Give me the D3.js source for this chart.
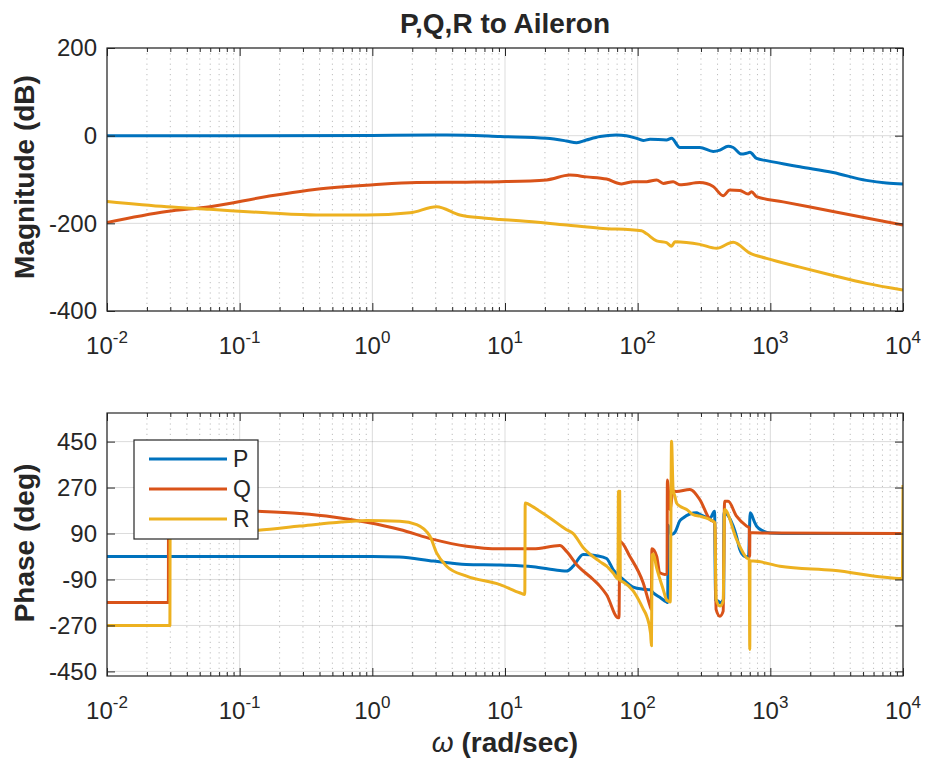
<!DOCTYPE html>
<html>
<head>
<meta charset="utf-8">
<script src="https://cdn.jsdelivr.net/npm/d3@7"></script>
<style>
  body { margin: 0; background: #fff; }
  text { font-family: "Liberation Sans", Arial, sans-serif; fill: #262626; }
</style>
</head>
<body>
<div id="chart"></div>
<script>
// tick labels
var xTicks = [1e-2, 1e-1, 1e0, 1e1, 1e2, 1e3, 1e4];
var xTickExps = ["-2", "-1", "0", "1", "2", "3", "4"];
var magTicks = [200, 0, -200, -400];
var phaseTicks = [450, 270, 90, -90, -270, -450];
var seriesNames = ["P", "Q", "R"];

// magnitude (dB) vs omega (rad/sec)
var wMagP = [0.01, 0.1, 1, 2.9, 5, 9.2, 20.6, 29, 34.7, 41, 52, 69, 82, 98, 110, 124, 165, 180, 208, 294, 371, 417, 481, 525, 607, 662, 702, 788, 936, 1667, 2972, 5300, 7500, 10000];
var magP = [0, 0, 0.5, 1.5, 1, -2, -6, -12, -16, -10, -2, 1.5, 0, -6, -11, -8, -10, -6, -27, -27, -36, -33, -24, -27, -42, -40, -38, -52, -57, -71, -84, -102, -108, -110];
var wMagQ = [0.01, 0.0282, 0.0597, 0.16, 0.38, 1.02, 2.16, 5.14, 9.16, 20.6, 30.8, 41.2, 58.3, 75.6, 92.5, 117, 139, 156, 185, 208, 294, 371, 441, 495, 589, 681, 721, 787, 1250, 2972, 5305, 10000];
var magQ = [-198, -173, -162, -139, -122, -112, -107, -106, -105, -101, -90, -94, -99, -110, -105, -105, -101, -109, -105, -112, -107, -116, -137, -124, -125, -133, -128, -139, -151, -173, -188, -204];
var wMagR = [0.01, 0.0282, 0.0597, 0.16, 0.38, 0.906, 1.92, 3.05, 4.57, 6.86, 9.16, 12.9, 29.1, 51.9, 107, 117, 139, 165, 180, 191, 294, 393, 525, 701, 936, 1668, 2972, 5305, 10000];
var magR = [-150, -162, -168, -176, -181, -181, -176, -162, -181, -188, -191, -194, -204, -211, -217, -224, -240, -244, -252, -242, -248, -257, -243, -268, -280, -300, -319, -337, -352];

// phase (deg) vs omega (rad/sec)
var wPhaseP = [0.01, 1.0, 1.6, 2.9, 5.1, 9.2, 16.3, 25.9, 29.1, 32.7, 38.8, 49, 58.3, 65.3, 77.8, 92.5, 110, 124, 131, 147, 165, 168.5, 169.5, 175, 180, 191, 208, 220, 278, 294, 350, 380, 386, 405, 417, 441, 445, 447, 525, 556, 589, 642, 685, 705, 760, 787, 883, 1000, 1500, 10000];
var phaseP = [0, 0, -2, -18, -31, -33, -40, -55, -57, -38, 8, 3, -8, -51, -90, -120, -128, -130, -142, -160, -178, -180, 122, 100, 86, 95, 140, 151, 171, 165, 150, 177, -170, -175, -181, -170, -166, 171, 119, 79, 27, 0, -2, 171, 135, 119, 100, 92, 90, 90];
var wPhaseQ = [0.01, 0.029, 0.0291, 0.138, 0.284, 0.507, 0.906, 1.61, 2.88, 5.14, 9.16, 16.3, 25.9, 29.1, 34.6, 46.2, 51.9, 58.3, 71.3, 72.3, 73.4, 87.4, 110, 124, 126.5, 128, 139, 147, 160, 166.5, 167.5, 170, 175, 185, 196, 247, 294, 350, 382, 390, 417, 441, 452, 481, 556, 662, 693, 699, 701, 742, 1000, 10000];
var phaseQ = [-180, -180, 185, 177, 168, 155, 134, 106, 67, 40, 30, 30, 43, 20, -31, -90, -116, -150, -240, -240, 60, 0, -103, -194, -207, 30, 1, -64, -70, -68, 300, 270, 184, 256, 255, 262, 223, 145, 132, -207, -234, -214, 216, 216, 158, 119, 112, 0, 93, 93, 92, 90];
var wPhaseR = [0.01, 0.0298, 0.0299, 0.138, 0.284, 0.507, 0.906, 1.61, 2.16, 2.72, 3.05, 3.63, 5.14, 9.16, 12.9, 14.1, 14.2, 15.0, 18.3, 21.8, 29.1, 32.7, 38.8, 51.9, 58.3, 65.3, 71.0, 71.6, 72.4, 73.2, 74.0, 77.8, 92.5, 98, 110, 117, 125, 127, 128.5, 131, 139, 156, 165, 170, 176, 180, 185, 191, 196, 208, 234, 262, 294, 350, 382, 390, 417, 441, 452, 556, 662, 693, 700, 703, 742, 1180, 2972, 9900, 10000];
var phaseR = [-270, -270, 92, 103, 119, 132, 141, 138, 125, 79, 14, -38, -77, -110, -142, -149, 210, 205, 177, 151, 105, 90, 35, -20, -38, -65, -88, 256, -90, 256, -94, -100, -135, -155, -205, -234, -300, -350, 5, 10, -45, -130, -170, -175, -178, 451, 262, 236, 210, 197, 184, 164, 158, 145, 132, -168, -194, -175, 184, 67, -5, -12, -364, -18, -18, -38, -54, -86, 280];

var colors = ["#0072BD", "#D95319", "#EDB120"];
var width = 925, height = 760;
var left = 107, right = 903;

var svg = d3.select("#chart").append("svg")
    .attr("width", width)
    .attr("height", height);

var x = d3.scaleLog().domain([1e-2, 1e4]).range([left, right]);

var minorX = [];
for (var d = -2; d < 4; d++) {
  for (var k = 2; k < 10; k++) minorX.push(k * Math.pow(10, d));
}

function drawPanel(id, top, bottom, yDomain, yTicks, series, yLabel, labelY) {
  var y = d3.scaleLinear().domain(yDomain).range([bottom, top]);
  var g = svg.append("g");

  // grid
  g.selectAll(".minor").data(minorX).enter().append("line")
    .attr("x1", function(v){ return x(v); }).attr("x2", function(v){ return x(v); })
    .attr("y1", top).attr("y2", bottom)
    .attr("stroke", "rgba(38,38,38,0.3)").attr("stroke-width", 1)
    .attr("stroke-dasharray", "1.2,4");
  g.selectAll(".majx").data(xTicks).enter().append("line")
    .attr("x1", function(v){ return x(v); }).attr("x2", function(v){ return x(v); })
    .attr("y1", top).attr("y2", bottom)
    .attr("stroke", "rgba(38,38,38,0.16)").attr("stroke-width", 1);
  g.selectAll(".majy").data(yTicks).enter().append("line")
    .attr("x1", left).attr("x2", right)
    .attr("y1", function(v){ return y(v); }).attr("y2", function(v){ return y(v); })
    .attr("stroke", "rgba(38,38,38,0.16)").attr("stroke-width", 1);

  // curves
  svg.append("clipPath").attr("id", "clip" + id).append("rect")
    .attr("x", left).attr("y", top).attr("width", right - left).attr("height", bottom - top);
  var line = d3.line()
    .curve(d3.curveMonotoneX)
    .x(function(p){ return x(p[0]); })
    .y(function(p){ return y(p[1]); });
  g.append("g").attr("clip-path", "url(#clip" + id + ")")
    .selectAll("path").data(series).enter().append("path")
    .attr("d", function(s){ return line(d3.zip(s.w, s.v)); })
    .attr("fill", "none")
    .attr("stroke", function(s, i){ return colors[i]; })
    .attr("stroke-width", 3)
    .attr("stroke-linejoin", "round");

  // ticks, all four sides pointing inward
  function tidy(a) {
    a.select(".domain").remove();
    a.selectAll("line").attr("stroke", "#262626");
  }
  g.append("g").attr("transform", "translate(0," + bottom + ")")
    .call(d3.axisBottom(x).tickValues(xTicks).tickSize(-8).tickFormat("")).call(tidy);
  g.append("g").attr("transform", "translate(0," + bottom + ")")
    .call(d3.axisBottom(x).tickValues(minorX).tickSize(-4).tickFormat("")).call(tidy);
  g.append("g").attr("transform", "translate(0," + top + ")")
    .call(d3.axisTop(x).tickValues(xTicks).tickSize(-8).tickFormat("")).call(tidy);
  g.append("g").attr("transform", "translate(0," + top + ")")
    .call(d3.axisTop(x).tickValues(minorX).tickSize(-4).tickFormat("")).call(tidy);
  g.append("g").attr("transform", "translate(" + right + ",0)")
    .call(d3.axisRight(y).tickValues(yTicks).tickSize(-8).tickFormat("")).call(tidy);
  var ya = g.append("g").attr("transform", "translate(" + left + ",0)")
    .call(d3.axisLeft(y).tickValues(yTicks).tickSize(-8).tickPadding(10)
      .tickFormat(function(v){ return String(v); })).call(tidy);
  ya.selectAll("text").style("font-size", "24px").attr("fill", "#262626");

  // box
  g.append("rect").attr("x", left).attr("y", top)
    .attr("width", right - left).attr("height", bottom - top)
    .attr("fill", "none").attr("stroke", "#262626").attr("stroke-width", 1.2);

  // x tick labels 10^n
  var xl = g.selectAll(".xl").data(xTicks).enter().append("text")
    .attr("x", function(v){ return x(v); })
    .attr("y", bottom + 43)
    .attr("text-anchor", "middle")
    .style("font-size", "24px");
  xl.append("tspan").text("10");
  xl.append("tspan").attr("dy", -11).style("font-size", "17px")
    .text(function(v, i){ return xTickExps[i]; });

  // y label
  g.append("text")
    .attr("transform", "translate(34," + labelY + ") rotate(-90)")
    .attr("text-anchor", "middle")
    .style("font-size", "28px").style("font-weight", "bold")
    .text(yLabel);
  return y;
}

drawPanel("mag", 48, 311, [-400, 200], magTicks, [
  {w: wMagP, v: magP}, {w: wMagQ, v: magQ}, {w: wMagR, v: magR}
], "Magnitude (dB)", 177);

drawPanel("phase", 413, 676, [-468, 562], phaseTicks, [
  {w: wPhaseP, v: phaseP}, {w: wPhaseQ, v: phaseQ}, {w: wPhaseR, v: phaseR}
], "Phase (deg)", 543);

// title
svg.append("text")
  .attr("x", (left + right) / 2).attr("y", 33)
  .attr("text-anchor", "middle")
  .style("font-size", "28px").style("font-weight", "bold")
  .text("P,Q,R to Aileron");

// x label
var xlab = svg.append("text")
  .attr("x", (left + right) / 2).attr("y", 752)
  .attr("text-anchor", "middle")
  .style("font-size", "28px").style("font-weight", "bold");
xlab.append("tspan").style("font-style", "italic").style("font-weight", "normal").text("ω");
xlab.append("tspan").text(" (rad/sec)");

// legend
var lg = svg.append("g").attr("transform", "translate(134,440)");
lg.append("rect").attr("width", 124).attr("height", 99)
  .attr("fill", "#fff").attr("stroke", "#262626").attr("stroke-width", 1.2);
seriesNames.forEach(function(n, i) {
  var yy = 19 + i * 30;
  lg.append("line").attr("x1", 15).attr("x2", 93).attr("y1", yy).attr("y2", yy)
    .attr("stroke", colors[i]).attr("stroke-width", 3);
  lg.append("text").attr("x", 99).attr("y", yy + 8)
    .style("font-size", "23px").text(n);
});
</script>
</body>
</html>
